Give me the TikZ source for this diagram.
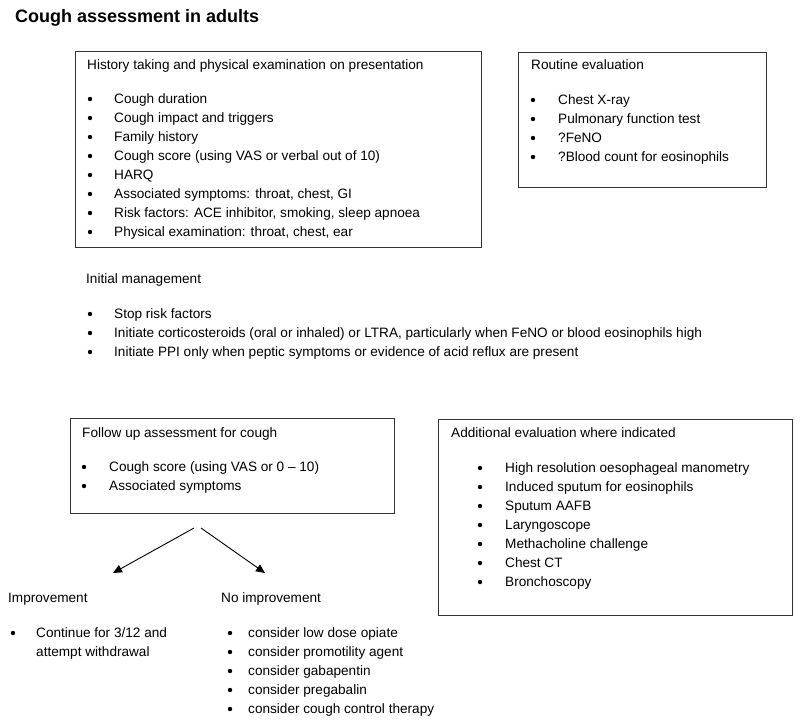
\documentclass[tikz,border=0pt]{standalone}
\usepackage{fontspec}
\setmainfont{Liberation Sans}
\usetikzlibrary{positioning, arrows.meta}

\begin{document}
\begin{tikzpicture}[x=1pt, y=-1pt,
    txt/.style={anchor=west, inner sep=0pt, text height=9.7pt, text depth=0pt,
                font=\fontsize{13.6}{16}\selectfont},
    bul/.style={circle, fill=black, inner sep=0pt, minimum size=4.4pt},
    box/.style={draw=black!80, line width=1pt, anchor=north west, inner sep=0pt},
    arr/.style={black, line width=0.9pt, -{Triangle[length=9pt, width=8pt]}}]
    \useasboundingbox (0,0) rectangle (800,724);

    % title
    \node[txt, font=\bfseries\fontsize{18}{20}\selectfont, text height=13pt] (title) at (15,15.5)
        {Cough assessment in adults};

    % the four boxes
    \node[box, minimum width=406pt, minimum height=196pt] (hist) at (75,51) {};
    \node[box, minimum width=248pt, minimum height=135pt] (rout) at (518,52) {};
    \node[box, minimum width=324pt, minimum height=95pt]  (follow) at (70,418) {};
    \node[box, minimum width=354pt, minimum height=196pt] (addev) at (438,419) {};

    % history taking
    \node[txt] (histhead) at (87,65) {History taking and physical examination on presentation};
    \foreach \t [count=\i] in {Cough duration, Cough impact and triggers, Family history,
        Cough score (using VAS or verbal out of 10), HARQ,
        {Associated symptoms: throat, chest, GI},
        {Risk factors: ACE inhibitor, smoking, sleep apnoea},
        {Physical examination: throat, chest, ear}}{
        \node[bul] (hdot\i) at (90,80+19*\i) {};
        \node[txt] (hitem\i) at (114,80+19*\i) {\t};
    }

    % routine evaluation
    \node[txt] (routhead) at (531,65) {Routine evaluation};
    \foreach \t [count=\i] in {Chest X-ray, Pulmonary function test, ?FeNO,
        ?Blood count for eosinophils}{
        \node[bul] (rdot\i) at (533,81+19*\i) {};
        \node[txt] (ritem\i) at (558,81+19*\i) {\t};
    }

    % initial management (no box)
    \node[txt] (inithead) at (86,279) {Initial management};
    \foreach \t [count=\i] in {Stop risk factors,
        {Initiate corticosteroids (oral or inhaled) or LTRA, particularly when FeNO or blood eosinophils high},
        Initiate PPI only when peptic symptoms or evidence of acid reflux are present}{
        \node[bul] (mdot\i) at (90,295+19*\i) {};
        \node[txt] (mitem\i) at (114,295+19*\i) {\t};
    }

    % follow up
    \node[txt] (followhead) at (82,433) {Follow up assessment for cough};
    \foreach \t [count=\i] in {Cough score (using VAS or 0 -- 10), Associated symptoms}{
        \node[bul] (fdot\i) at (84,448+19*\i) {};
        \node[txt] (fitem\i) at (109,448+19*\i) {\t};
    }

    % additional evaluation
    \node[txt] (addhead) at (451,433) {Additional evaluation where indicated};
    \foreach \t [count=\i] in {High resolution oesophageal manometry,
        Induced sputum for eosinophils, Sputum AAFB, Laryngoscope,
        Methacholine challenge, Chest CT, Bronchoscopy}{
        \node[bul] (adot\i) at (480,449+19*\i) {};
        \node[txt] (aitem\i) at (505,449+19*\i) {\t};
    }

    % split into the two outcomes
    \coordinate (splitL) at (194,528);
    \coordinate (splitR) at (201,528);
    \coordinate (impend) at (113,573);
    \coordinate (noimpend) at (265,573);
    \draw[arr] (splitL) -- (impend);
    \draw[arr] (splitR) -- (noimpend);

    \node[txt] (imphead) at (8,598) {Improvement};
    \node[bul] (idot1) at (13,633) {};
    \node[txt] (iitem1) at (36,633) {Continue for 3/12 and};
    \node[txt] (iitem1b) at (36,652) {attempt withdrawal};

    \node[txt] (noimphead) at (221,598) {No improvement};
    \foreach \t [count=\i] in {consider low dose opiate, consider promotility agent,
        consider gabapentin, consider pregabalin, consider cough control therapy}{
        \node[bul] (ndot\i) at (230,614+19*\i) {};
        \node[txt] (nitem\i) at (248,614+19*\i) {\t};
    }
\end{tikzpicture}
\end{document}
